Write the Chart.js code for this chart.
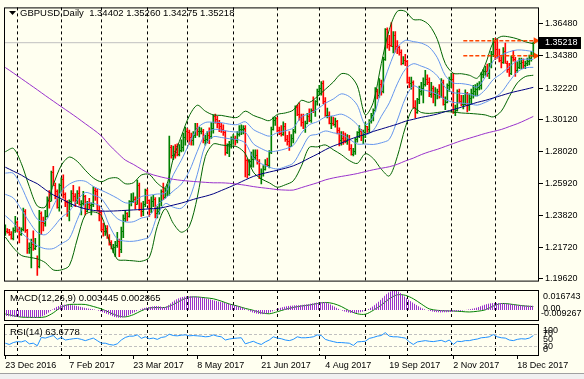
<!DOCTYPE html>
<html><head><meta charset="utf-8">
<script src="https://cdn.jsdelivr.net/npm/chart.js@4"></script>
<style>
html,body{margin:0;padding:0;background:#FFFFF0;}
body{width:584px;height:379px;position:relative;overflow:hidden;}
canvas{position:absolute;left:0;}
#c1{top:0}#c2{top:287px}#c3{top:321px}
#foot{position:absolute;left:0;top:373px;width:584px;height:6px;background:#F0F0F0;border-top:1px solid #A0A0A0;}
</style></head><body>
<canvas id="c1" width="584" height="289"></canvas>
<canvas id="c2" width="584" height="36"></canvas>
<canvas id="c3" width="584" height="58"></canvas>
<div id="foot"></div>
<script>
// ---------------- DATA ----------------
const symbolTitle = 'GBPUSD,Daily';
const dateLabels = ['23 Dec 2016','7 Feb 2017','23 Mar 2017','8 May 2017','21 Jun 2017','4 Aug 2017','19 Sep 2017','2 Nov 2017','18 Dec 2017'];
const dateLabelIdx = [0,32,64,96,128,160,192,224,256];
const monthStartIdx = [6,28,48,71,91,114,136,157,180,201,223,245];
const priceTicks = [1.36480,1.34380,1.32220,1.30120,1.28020,1.25920,1.23820,1.21720,1.19620];
const macdScaleLabels = [0.016743, 0.00, -0.009267];
const rsiScaleLabels = [100, 70, 50, 30, 0];
const rsiLevels = [70, 30];
const alertLevels = [1.3535, 1.3435];
const alertStartIdx = 229;

const opens = [1.2280,1.2280,1.2275,1.2260,1.2230,1.2285,1.2340,1.2290,1.2260,1.2290,
1.2410,1.2285,1.2165,1.2170,1.2190,1.2165,1.2100,1.2050,1.2400,1.2340,
1.2330,1.2375,1.2485,1.2480,1.2665,1.2585,1.2545,1.2435,1.2580,1.2620,
1.2525,1.2470,1.2410,1.2475,1.2530,1.2510,1.2485,1.2530,1.2460,1.2465,
1.2510,1.2410,1.2455,1.2450,1.2460,1.2550,1.2545,1.2415,1.2405,1.2290,
1.2280,1.2300,1.2240,1.2205,1.2165,1.2175,1.2185,1.2215,1.2160,1.2280,
1.2365,1.2400,1.2375,1.2475,1.2480,1.2490,1.2460,1.2580,1.2425,1.2410,
1.2460,1.2550,1.2485,1.2430,1.2480,1.2490,1.2400,1.2410,1.2475,1.2540,
1.2505,1.2550,1.2570,1.2830,1.2780,1.2805,1.2840,1.2790,1.2815,1.2830,
1.2900,1.2940,1.2930,1.2900,1.2880,1.2915,1.2960,1.2940,1.2940,1.2940,
1.2880,1.2885,1.2915,1.2905,1.2960,1.3035,1.3015,1.2990,1.2970,1.2955,
1.2935,1.2800,1.2850,1.2855,1.2885,1.2890,1.2880,1.2920,1.2950,1.2950,
1.2955,1.2745,1.2655,1.2740,1.2755,1.2765,1.2780,1.2740,1.2630,1.2660,
1.2685,1.2720,1.2715,1.2800,1.2950,1.3010,1.3025,1.2945,1.2925,1.2920,
1.2975,1.2885,1.2875,1.2840,1.2890,1.2940,1.3095,1.3050,1.3030,1.3000,
1.2955,1.2995,1.3040,1.3010,1.3080,1.3075,1.3135,1.3205,1.3220,1.3255,
1.3135,1.3045,1.3045,1.2995,1.2995,1.2985,1.3005,1.2945,1.2880,1.2895,
1.2880,1.2875,1.2895,1.2825,1.2790,1.2805,1.2885,1.2935,1.2940,1.2915,
1.2935,1.2970,1.2950,1.3005,1.3045,1.3075,1.3200,1.3175,1.3250,1.3205,
1.3415,1.3610,1.3515,1.3505,1.3500,1.3575,1.3500,1.3495,1.3460,1.3385,
1.3410,1.3400,1.3265,1.3255,1.3260,1.3100,1.3065,1.3150,1.3205,1.3225,
1.3250,1.3285,1.3265,1.3180,1.3220,1.3180,1.3190,1.3205,1.3170,1.3265,
1.3115,1.3130,1.3245,1.3285,1.3285,1.3065,1.3075,1.3200,1.3140,1.3120,
1.3120,1.3190,1.3110,1.3160,1.3190,1.3200,1.3215,1.3230,1.3245,1.3315,
1.3335,1.3335,1.3320,1.3365,1.3450,1.3525,1.3480,1.3435,1.3410,1.3395,
1.3470,1.3390,1.3350,1.3320,1.3430,1.3415,1.3340,1.3360,1.3385,1.3395,
1.3375,1.3390,1.3400,1.3420,1.34402];
const highs = [1.2320,1.2295,1.2290,1.2275,1.2300,1.2375,1.2345,1.2305,1.2300,1.2430,
1.2420,1.2290,1.2200,1.2225,1.2280,1.2230,1.2115,1.2415,1.2405,1.2370,
1.2415,1.2505,1.2545,1.2675,1.2705,1.2595,1.2550,1.2590,1.2630,1.2650,
1.2530,1.2480,1.2485,1.2545,1.2580,1.2525,1.2545,1.2570,1.2480,1.2540,
1.2515,1.2475,1.2495,1.2465,1.2570,1.2565,1.2555,1.2445,1.2415,1.2330,
1.2315,1.2315,1.2255,1.2215,1.2190,1.2210,1.2270,1.2225,1.2305,1.2385,
1.2415,1.2400,1.2480,1.2525,1.2530,1.2505,1.2615,1.2595,1.2465,1.2475,
1.2555,1.2555,1.2485,1.2505,1.2515,1.2500,1.2440,1.2500,1.2550,1.2595,
1.2560,1.2585,1.2905,1.2845,1.2840,1.2850,1.2855,1.2850,1.2880,1.2925,
1.2965,1.2955,1.2945,1.2925,1.2935,1.2990,1.2990,1.2965,1.2960,1.2950,
1.2910,1.2935,1.2960,1.2995,1.3045,1.3050,1.3035,1.3010,1.2990,1.2980,
1.2940,1.2855,1.2870,1.2900,1.2915,1.2905,1.2935,1.2975,1.2980,1.2975,
1.2975,1.2755,1.2750,1.2800,1.2815,1.2815,1.2815,1.2750,1.2690,1.2710,
1.2750,1.2760,1.2810,1.2965,1.3030,1.3030,1.3030,1.2965,1.2975,1.3000,
1.2990,1.2910,1.2935,1.2915,1.2950,1.3105,1.3110,1.3125,1.3050,1.3050,
1.3005,1.3055,1.3085,1.3085,1.3165,1.3140,1.3215,1.3240,1.3265,1.3270,
1.3160,1.3090,1.3065,1.3035,1.3030,1.3025,1.3010,1.2960,1.2935,1.2935,
1.2925,1.2915,1.2910,1.2850,1.2825,1.2890,1.2935,1.2975,1.2950,1.2945,
1.2995,1.2970,1.3015,1.3055,1.3085,1.3225,1.3215,1.3285,1.3275,1.3425,
1.3615,1.3620,1.3570,1.3655,1.3595,1.3595,1.3535,1.3500,1.3475,1.3430,
1.3445,1.3405,1.3295,1.3295,1.3270,1.3140,1.3155,1.3235,1.3260,1.3290,
1.3340,1.3310,1.3290,1.3260,1.3235,1.3225,1.3215,1.3245,1.3285,1.3275,
1.3165,1.3250,1.3295,1.3320,1.3320,1.3110,1.3210,1.3215,1.3175,1.3175,
1.3210,1.3195,1.3185,1.3215,1.3240,1.3245,1.3255,1.3265,1.3325,1.3345,
1.3365,1.3380,1.3385,1.3465,1.3550,1.3550,1.3545,1.3480,1.3430,1.3490,
1.3520,1.3400,1.3385,1.3435,1.3470,1.3425,1.3395,1.3420,1.3420,1.3415,
1.3400,1.3420,1.3440,1.3465,1.35260];
const lows = [1.2250,1.2265,1.2250,1.2225,1.2220,1.2270,1.2275,1.2200,1.2250,1.2280,
1.2270,1.2130,1.2130,1.2035,1.2150,1.2155,1.1985,1.2035,1.2255,1.2280,
1.2310,1.2370,1.2430,1.2475,1.2580,1.2490,1.2430,1.2410,1.2535,1.2495,
1.2440,1.2375,1.2345,1.2440,1.2475,1.2440,1.2460,1.2450,1.2385,1.2450,
1.2385,1.2405,1.2425,1.2385,1.2440,1.2480,1.2410,1.2345,1.2280,1.2245,
1.2250,1.2230,1.2185,1.2160,1.2135,1.2110,1.2170,1.2110,1.2135,1.2235,
1.2340,1.2345,1.2370,1.2445,1.2465,1.2425,1.2455,1.2415,1.2375,1.2380,
1.2440,1.2460,1.2375,1.2400,1.2440,1.2365,1.2365,1.2390,1.2445,1.2485,
1.2495,1.2510,1.2515,1.2760,1.2750,1.2760,1.2775,1.2775,1.2800,1.2805,
1.2845,1.2880,1.2850,1.2845,1.2845,1.2895,1.2910,1.2900,1.2920,1.2860,
1.2845,1.2860,1.2855,1.2890,1.2925,1.2990,1.2960,1.2935,1.2930,1.2910,
1.2780,1.2790,1.2770,1.2825,1.2850,1.2845,1.2860,1.2905,1.2915,1.2920,
1.2635,1.2630,1.2645,1.2700,1.2700,1.2750,1.2720,1.2625,1.2590,1.2640,
1.2680,1.2705,1.2695,1.2790,1.2945,1.2975,1.2935,1.2915,1.2905,1.2910,
1.2870,1.2845,1.2810,1.2835,1.2860,1.2925,1.3040,1.3010,1.2970,1.2955,
1.2930,1.2985,1.3000,1.2995,1.3060,1.3035,1.3110,1.3175,1.3175,1.3120,
1.3035,1.3025,1.2985,1.2955,1.2975,1.2965,1.2920,1.2840,1.2845,1.2850,
1.2860,1.2850,1.2810,1.2780,1.2775,1.2785,1.2865,1.2895,1.2875,1.2855,
1.2895,1.2930,1.2930,1.2990,1.3005,1.3070,1.3150,1.3160,1.3175,1.3190,
1.3405,1.3485,1.3470,1.3495,1.3455,1.3460,1.3450,1.3440,1.3375,1.3380,
1.3370,1.3255,1.3225,1.3215,1.3090,1.3025,1.3055,1.3120,1.3175,1.3125,
1.3235,1.3245,1.3165,1.3160,1.3125,1.3105,1.3150,1.3155,1.3160,1.3110,
1.3080,1.3125,1.3200,1.3225,1.3055,1.3040,1.3070,1.3125,1.3105,1.3085,
1.3110,1.3065,1.3075,1.3120,1.3155,1.3170,1.3170,1.3210,1.3215,1.3290,
1.3305,1.3300,1.3285,1.3355,1.3430,1.3410,1.3420,1.3395,1.3355,1.3385,
1.3385,1.3325,1.3300,1.3310,1.3400,1.3300,1.3325,1.3350,1.3350,1.3350,
1.3350,1.3370,1.3375,1.3400,1.34275];
const closes = [1.2280,1.2275,1.2260,1.2230,1.2285,1.2340,1.2290,1.2260,1.2290,1.2410,
1.2285,1.2165,1.2170,1.2190,1.2165,1.2180,1.2050,1.2400,1.2340,1.2330,
1.2375,1.2485,1.2480,1.2665,1.2585,1.2545,1.2435,1.2580,1.2620,1.2525,
1.2470,1.2410,1.2475,1.2530,1.2510,1.2485,1.2530,1.2460,1.2465,1.2510,
1.2410,1.2455,1.2450,1.2460,1.2550,1.2545,1.2415,1.2405,1.2290,1.2280,
1.2300,1.2240,1.2205,1.2165,1.2175,1.2185,1.2215,1.2160,1.2280,1.2365,
1.2400,1.2375,1.2475,1.2480,1.2490,1.2460,1.2580,1.2425,1.2410,1.2460,
1.2550,1.2485,1.2430,1.2480,1.2490,1.2400,1.2410,1.2475,1.2540,1.2505,
1.2550,1.2570,1.2830,1.2780,1.2805,1.2800,1.2790,1.2815,1.2830,1.2900,
1.2940,1.2930,1.2900,1.2880,1.2915,1.2960,1.2940,1.2940,1.2940,1.2880,
1.2885,1.2915,1.2905,1.2960,1.3035,1.3015,1.2990,1.2970,1.2955,1.2935,
1.2800,1.2850,1.2855,1.2885,1.2890,1.2880,1.2920,1.2950,1.2950,1.2960,
1.2745,1.2655,1.2740,1.2755,1.2765,1.2780,1.2740,1.2630,1.2660,1.2685,
1.2720,1.2715,1.2800,1.2950,1.3010,1.3025,1.2945,1.2925,1.2920,1.2975,
1.2885,1.2875,1.2840,1.2890,1.2940,1.3095,1.3050,1.3030,1.3000,1.2955,
1.2995,1.3040,1.3010,1.3080,1.3075,1.3135,1.3205,1.3220,1.3255,1.3135,
1.3045,1.3045,1.2995,1.2995,1.2985,1.3005,1.2945,1.2880,1.2895,1.2880,
1.2875,1.2895,1.2825,1.2790,1.2805,1.2885,1.2935,1.2940,1.2915,1.2935,
1.2970,1.2950,1.3005,1.3045,1.3075,1.3200,1.3175,1.3250,1.3205,1.3415,
1.3610,1.3515,1.3505,1.3500,1.3575,1.3500,1.3495,1.3460,1.3385,1.3410,
1.3400,1.3265,1.3255,1.3260,1.3100,1.3065,1.3150,1.3205,1.3225,1.3250,
1.3285,1.3265,1.3180,1.3220,1.3180,1.3190,1.3205,1.3170,1.3265,1.3115,
1.3130,1.3245,1.3285,1.3285,1.3065,1.3075,1.3200,1.3140,1.3120,1.3120,
1.3190,1.3110,1.3160,1.3190,1.3200,1.3215,1.3230,1.3245,1.3315,1.3335,
1.3335,1.3320,1.3365,1.3450,1.3525,1.3480,1.3435,1.3410,1.3395,1.3470,
1.3390,1.3350,1.3320,1.3430,1.3415,1.3340,1.3360,1.3385,1.3395,1.3375,
1.3390,1.3400,1.3420,1.3440,1.35218];

// indicator readings, one value every BAND_STEP bars
const BAND_STEP = 4;
const bbUpperOuter = [1.2802,1.2824,1.2725,1.2572,1.2444,1.2437,1.2584,1.2712,1.2767,1.2738,
1.2680,1.2629,1.2604,1.2626,1.2629,1.2591,1.2597,1.2648,1.2652,1.2594,
1.2565,1.2757,1.2904,1.3039,1.3109,1.3070,1.3045,1.3042,1.3032,1.3029,
1.3070,1.3042,1.3023,1.3007,1.3048,1.3058,1.3077,1.3141,1.3128,1.3166,
1.3214,1.3262,1.3317,1.3307,1.3237,1.3045,1.3128,1.3384,1.3608,1.3729,
1.3729,1.3675,1.3672,1.3637,1.3544,1.3384,1.3320,1.3317,1.3307,1.3288,
1.3378,1.3525,1.3563,1.3560,1.3547,1.3528,1.3515];
const bbLowerOuter = [1.2239,1.2169,1.2118,1.2105,1.2095,1.2070,1.2022,1.2022,1.2050,1.2226,
1.2386,1.2405,1.2380,1.2213,1.2092,1.2086,1.2082,1.2079,1.2105,1.2309,
1.2425,1.2329,1.2271,1.2309,1.2501,1.2770,1.2853,1.2847,1.2840,1.2834,
1.2789,1.2668,1.2623,1.2597,1.2568,1.2584,1.2610,1.2706,1.2831,1.2834,
1.2847,1.2815,1.2783,1.2744,1.2725,1.2789,1.2757,1.2687,1.2642,1.2770,
1.2962,1.3090,1.3061,1.3055,1.3061,1.3067,1.3064,1.3058,1.3055,1.3051,
1.3045,1.3032,1.3070,1.3166,1.3256,1.3298,1.3307];
const bbUpperInner = [1.2661,1.2660,1.2573,1.2455,1.2357,1.2345,1.2444,1.2540,1.2588,1.2610,
1.2607,1.2573,1.2548,1.2523,1.2495,1.2465,1.2468,1.2506,1.2515,1.2523,
1.2530,1.2650,1.2746,1.2857,1.2957,1.2995,1.2997,1.2994,1.2984,1.2981,
1.3000,1.2949,1.2923,1.2905,1.2928,1.2940,1.2960,1.3032,1.3054,1.3083,
1.3122,1.3150,1.3184,1.3166,1.3109,1.2981,1.3035,1.3210,1.3367,1.3489,
1.3537,1.3529,1.3519,1.3492,1.3423,1.3305,1.3256,1.3252,1.3244,1.3229,
1.3295,1.3402,1.3440,1.3462,1.3474,1.3471,1.3463];
const bbMiddle = [1.2521,1.2497,1.2422,1.2339,1.2270,1.2254,1.2303,1.2367,1.2409,1.2482,
1.2533,1.2517,1.2492,1.2420,1.2361,1.2339,1.2340,1.2364,1.2379,1.2452,
1.2495,1.2543,1.2588,1.2674,1.2805,1.2920,1.2949,1.2945,1.2936,1.2932,
1.2930,1.2855,1.2823,1.2802,1.2808,1.2821,1.2844,1.2924,1.2980,1.3000,
1.3031,1.3039,1.3050,1.3026,1.2981,1.2917,1.2943,1.3036,1.3125,1.3250,
1.3346,1.3383,1.3367,1.3346,1.3303,1.3226,1.3192,1.3188,1.3181,1.3170,
1.3212,1.3279,1.3317,1.3363,1.3402,1.3413,1.3411];
const bbLowerInner = [1.2380,1.2333,1.2270,1.2222,1.2182,1.2162,1.2163,1.2195,1.2229,1.2354,
1.2460,1.2461,1.2436,1.2316,1.2226,1.2212,1.2211,1.2221,1.2242,1.2380,
1.2460,1.2436,1.2429,1.2492,1.2653,1.2845,1.2901,1.2896,1.2888,1.2883,
1.2859,1.2762,1.2723,1.2700,1.2688,1.2703,1.2727,1.2815,1.2905,1.2917,
1.2939,1.2927,1.2917,1.2885,1.2853,1.2853,1.2850,1.2861,1.2884,1.3010,
1.3154,1.3236,1.3214,1.3201,1.3182,1.3146,1.3128,1.3123,1.3118,1.3110,
1.3128,1.3155,1.3193,1.3265,1.3329,1.3356,1.3359];
const maSlow = [1.3358,1.3322,1.3285,1.3248,1.3211,1.3173,1.3136,1.3099,1.3063,1.3026,
1.2987,1.2949,1.2907,1.2847,1.2795,1.2747,1.2719,1.2687,1.2658,1.2642,
1.2629,1.2620,1.2613,1.2608,1.2604,1.2600,1.2597,1.2597,1.2594,1.2588,
1.2581,1.2572,1.2565,1.2559,1.2552,1.2549,1.2549,1.2565,1.2581,1.2597,
1.2616,1.2629,1.2639,1.2648,1.2658,1.2671,1.2683,1.2693,1.2703,1.2719,
1.2741,1.2760,1.2783,1.2802,1.2818,1.2837,1.2856,1.2875,1.2891,1.2907,
1.2923,1.2936,1.2949,1.2968,1.2987,1.3010,1.3035];
const maMid = [1.2700,1.2674,1.2648,1.2616,1.2591,1.2552,1.2517,1.2492,1.2463,1.2441,
1.2425,1.2415,1.2410,1.2410,1.2412,1.2415,1.2418,1.2421,1.2425,1.2428,
1.2437,1.2450,1.2463,1.2479,1.2495,1.2508,1.2524,1.2546,1.2568,1.2591,
1.2616,1.2639,1.2655,1.2668,1.2680,1.2693,1.2709,1.2732,1.2760,1.2786,
1.2815,1.2840,1.2859,1.2882,1.2901,1.2917,1.2936,1.2952,1.2968,1.2984,
1.3003,1.3016,1.3029,1.3039,1.3051,1.3067,1.3080,1.3096,1.3112,1.3128,
1.3141,1.3157,1.3173,1.3189,1.3202,1.3214,1.3227];
const macdMain = [-0.0048,-0.0056,-0.0060,-0.0064,-0.0064,-0.0040,0.0009,0.0041,0.0041,0.0033,
0.0017,0.0005,-0.0015,-0.0040,-0.0064,-0.0056,-0.0024,0.0009,0.0025,0.0033,
0.0025,0.0074,0.0107,0.0115,0.0111,0.0098,0.0082,0.0066,0.0050,0.0033,
0.0009,-0.0024,-0.0036,-0.0024,0.0009,0.0029,0.0037,0.0041,0.0050,0.0062,
0.0066,0.0033,-0.0003,-0.0024,-0.0024,-0.0007,0.0033,0.0090,0.0150,0.0158,
0.0107,0.0058,0.0017,-0.0007,-0.0020,-0.0020,-0.0015,-0.0007,0.0005,0.0021,
0.0046,0.0058,0.0058,0.0050,0.0041,0.0037,0.003445];
const macdSignal = [-0.0034,-0.0048,-0.0060,-0.0062,-0.0063,-0.0058,-0.0024,0.0025,0.0046,0.0047,
0.0046,0.0029,0.0009,-0.0020,-0.0048,-0.0058,-0.0040,-0.0007,0.0017,0.0020,
0.0021,0.0046,0.0082,0.0107,0.0109,0.0102,0.0094,0.0074,0.0050,0.0033,
0.0013,-0.0003,-0.0024,-0.0032,-0.0015,0.0005,0.0021,0.0033,0.0041,0.0054,
0.0063,0.0054,0.0029,-0.0007,-0.0032,-0.0036,-0.0003,0.0041,0.0094,0.0127,
0.0123,0.0094,0.0050,0.0009,-0.0003,-0.0007,-0.0009,-0.0013,-0.0017,-0.0011,
0.0001,0.0033,0.0054,0.0050,0.0041,0.0033,0.002865];
// RSI(14), one value every RSI_STEP bars
const RSI_STEP = 2;
const rsiValues = [40,36,42,45,44,48,38,40,32,58,
56,60,64,52,58,50,52,54,55,52,
48,52,56,48,40,40,36,34,38,50,
58,62,62,66,55,60,54,56,52,58,
60,68,64,63,65,66,63,64,63,62,
60,61,66,62,60,50,53,55,56,57,
38,42,46,40,36,44,50,60,56,54,
50,48,52,60,57,57,58,60,66,64,
52,48,45,42,42,41,40,33,44,45,
46,55,58,62,64,73,62,60,60,58,
56,44,36,44,46,48,46,45,47,49,
44,50,36,46,45,48,48,51,53,57,
58,60,67,60,57,56,50,48,52,54,
53,56,63.6778];

// ---------------- RENDER ----------------
const X_MIN = -0.65, X_MAX = 266.85;
const PRICE_MIN = 1.19448, PRICE_MAX = 1.37548;
const MACD_MIN = -0.009267, MACD_MAX = 0.016743;
const FONT = 'Liberation Sans';
const AXIS_FONT = {family: FONT, size: 9};
const last = opens.length - 1;
const UP = '#008000', DOWN = '#FF0000';
const barColor = i => closes[i] >= opens[i] ? UP : DOWN;

const stepPts = (arr, step) => arr.map((v, j) => ({x: j * step, y: v}));

const monthGrid = {
  id: 'monthGrid',
  beforeDatasetsDraw(chart) {
    const {ctx, chartArea: a, scales: {x}} = chart;
    ctx.save();
    ctx.strokeStyle = '#000'; ctx.lineWidth = 1; ctx.setLineDash([3, 3]);
    monthStartIdx.forEach(i => {
      const px = Math.round(x.getPixelForValue(i)) + 0.5;
      ctx.beginPath(); ctx.moveTo(px, a.top); ctx.lineTo(px, a.bottom); ctx.stroke();
    });
    ctx.restore();
  }
};
const frame = {
  id: 'frame',
  afterDraw(chart) {
    const {ctx, chartArea: a} = chart;
    ctx.save(); ctx.strokeStyle = '#000'; ctx.lineWidth = 1;
    ctx.strokeRect(a.left + 0.5, a.top + 0.5, a.right - a.left - 1, a.bottom - a.top - 1);
    ctx.restore();
  }
};
// open / close ticks of the OHLC bars, placed through the chart's scales
const ohlcTicks = {
  id: 'ohlcTicks',
  afterDatasetDraw(chart, args) {
    if (args.index !== 1) return;
    const {ctx, chartArea: a, scales: {x, y}} = chart;
    ctx.save();
    ctx.beginPath(); ctx.rect(a.left, a.top, a.right - a.left, a.bottom - a.top); ctx.clip();
    opens.forEach((o, i) => {
      const px = Math.round(x.getPixelForValue(i));
      ctx.fillStyle = barColor(i);
      ctx.fillRect(px - 1, Math.round(y.getPixelForValue(o)), 1, 1);
      ctx.fillRect(px + 1, Math.round(y.getPixelForValue(closes[i])), 1, 1);
    });
    ctx.restore();
  }
};
const mainOverlay = {
  id: 'mainOverlay',
  afterDraw(chart) {
    const {ctx, chartArea: a, scales: {y}} = chart;
    ctx.save();
    ctx.fillStyle = '#000';
    ctx.beginPath(); ctx.moveTo(9, 11); ctx.lineTo(16, 11); ctx.lineTo(12.5, 15); ctx.closePath(); ctx.fill();
    ctx.font = '9.5px ' + FONT; ctx.textBaseline = 'middle';
    const t = symbolTitle + '  ' + [opens[last], highs[last], lows[last], closes[last]].map(v => v.toFixed(5)).join(' ');
    ctx.fillText(t, 20, 13);
    const py = Math.round(y.getPixelForValue(closes[last]));
    ctx.fillStyle = '#000';
    ctx.fillRect(a.right, py - 6, 42, 12);
    ctx.fillStyle = '#fff'; ctx.font = '9px ' + FONT;
    ctx.fillText(closes[last].toFixed(5), a.right + 6, py);
    ctx.restore();
  }
};

new Chart(document.getElementById('c1'), {
  type: 'bar',
  data: {datasets: [
    {type: 'line', data: [{x: X_MIN, y: closes[last]}, {x: X_MAX, y: closes[last]}], borderColor: '#C0C0C0', borderWidth: 1, pointRadius: 0, order: 40},
    {type: 'bar', data: opens.map((o, i) => ({x: i, y: [lows[i], highs[i]]})),
      backgroundColor: opens.map((o, i) => barColor(i)),
      barThickness: 1, borderWidth: 0, order: 30},
    {type: 'line', data: stepPts(bbUpperOuter, BAND_STEP), borderColor: '#006400', borderWidth: 1, pointRadius: 0, tension: 0.3, order: 10},
    {type: 'line', data: stepPts(bbLowerOuter, BAND_STEP), borderColor: '#006400', borderWidth: 1, pointRadius: 0, tension: 0.3, order: 10},
    {type: 'line', data: stepPts(bbUpperInner, BAND_STEP), borderColor: '#6495ED', borderWidth: 1, pointRadius: 0, tension: 0.3, order: 10},
    {type: 'line', data: stepPts(bbMiddle, BAND_STEP), borderColor: '#6495ED', borderWidth: 1, pointRadius: 0, tension: 0.3, order: 10},
    {type: 'line', data: stepPts(bbLowerInner, BAND_STEP), borderColor: '#6495ED', borderWidth: 1, pointRadius: 0, tension: 0.3, order: 10},
    {type: 'line', data: stepPts(maSlow, BAND_STEP), borderColor: '#9932CC', borderWidth: 1, pointRadius: 0, tension: 0.3, order: 5},
    {type: 'line', data: stepPts(maMid, BAND_STEP), borderColor: '#000080', borderWidth: 1, pointRadius: 0, tension: 0.3, order: 5},
    ...alertLevels.map(v => ({type: 'line', data: [{x: alertStartIdx, y: v}, {x: last + 0.3, y: v}], borderColor: '#FF4500', borderWidth: 1.5, borderDash: [4, 2], pointRadius: 0, order: 1})),
    {type: 'scatter', data: alertLevels.map(v => ({x: last + 1.2, y: v})), pointStyle: 'triangle', rotation: 90, radius: 4, backgroundColor: '#FF4500', borderColor: '#FF4500', borderWidth: 0, order: 1}
  ]},
  options: {
    responsive: false, animation: false, events: [],
    layout: {padding: {left: 4, top: 4, right: 0, bottom: 2}},
    plugins: {legend: {display: false}, tooltip: {enabled: false}},
    scales: {
      x: {type: 'linear', min: X_MIN, max: X_MAX, offset: false, display: false},
      y: {position: 'right', min: PRICE_MIN, max: PRICE_MAX,
        afterBuildTicks(ax) { ax.ticks = priceTicks.map(v => ({value: v})); },
        afterFit(ax) { ax.width = 45; },
        ticks: {callback: v => Number(v).toFixed(5), font: AXIS_FONT, color: '#000', padding: 2, autoSkip: false},
        grid: {drawOnChartArea: false, drawTicks: true, tickLength: 4, color: '#000'},
        border: {display: false}}
    }
  },
  plugins: [monthGrid, ohlcTicks, frame, mainOverlay]
});

// MACD
const c2 = document.getElementById('c2');
const pc = document.createElement('canvas'); pc.width = 2; pc.height = 1;
const pg = pc.getContext('2d'); pg.fillStyle = '#9932CC'; pg.fillRect(0, 0, 1, 1);
const histPattern = c2.getContext('2d').createPattern(pc, 'repeat');
const macdLabelsPlugin = {
  id: 'macdLabels',
  afterDraw(chart) {
    const {ctx, chartArea: a, scales: {y}} = chart;
    ctx.save(); ctx.fillStyle = '#000'; ctx.font = '9px ' + FONT; ctx.textBaseline = 'middle';
    macdScaleLabels.forEach(v => {
      let py = y.getPixelForValue(v);
      if (v === MACD_MAX) py = a.top + 7;
      else if (v === MACD_MIN) py = a.bottom - 7;
      else py -= 1;
      const txt = v === 0 ? '0.00' : v.toFixed(6);
      ctx.fillText(txt, a.right + (v < 0 ? 2 : 4), py);
    });
    ctx.font = '9.5px ' + FONT;
    ctx.fillText('MACD(12,26,9) ' + macdMain[macdMain.length - 1].toFixed(6) + ' ' + macdSignal[macdSignal.length - 1].toFixed(6), a.left + 6, a.top + 8);
    ctx.restore();
  }
};
new Chart(c2, {
  type: 'line',
  data: {datasets: [
    {data: stepPts(macdMain, BAND_STEP), borderColor: 'transparent', borderWidth: 0, backgroundColor: histPattern, fill: 'origin', pointRadius: 0, tension: 0.3},
    {data: stepPts(macdSignal, BAND_STEP), borderColor: '#008000', borderWidth: 1, pointRadius: 0, tension: 0.3, fill: false}
  ]},
  options: {
    responsive: false, animation: false, events: [],
    layout: {padding: {left: 4, right: 45, top: 3, bottom: 2}},
    plugins: {legend: {display: false}, tooltip: {enabled: false}},
    scales: {
      x: {type: 'linear', min: X_MIN, max: X_MAX, display: false},
      y: {min: MACD_MIN, max: MACD_MAX, display: false}
    }
  },
  plugins: [monthGrid, frame, macdLabelsPlugin]
});

// RSI
const rsiPlugin = {
  id: 'rsiDeco',
  beforeDatasetsDraw(chart) {
    const {ctx, chartArea: a, scales: {y}} = chart;
    ctx.save(); ctx.strokeStyle = '#C0C0C0'; ctx.lineWidth = 1; ctx.setLineDash([3, 2]);
    rsiLevels.forEach(v => {
      const py = Math.round(y.getPixelForValue(v)) + 0.5;
      ctx.beginPath(); ctx.moveTo(a.left, py); ctx.lineTo(a.right, py); ctx.stroke();
    });
    ctx.restore();
  },
  afterDraw(chart) {
    const {ctx, chartArea: a, scales: {y}} = chart;
    ctx.save(); ctx.fillStyle = '#000'; ctx.font = '9px ' + FONT; ctx.textBaseline = 'middle';
    rsiScaleLabels.forEach(v => {
      let py = y.getPixelForValue(v);
      if (v === 100) py = a.top + 7;
      else if (v === 0) py = a.bottom - 6;
      ctx.fillText(String(v), a.right + 4, py);
    });
    ctx.font = '9.5px ' + FONT;
    ctx.fillText('RSI(14) ' + rsiValues[rsiValues.length - 1].toFixed(4), a.left + 6, a.top + 8);
    ctx.restore();
  }
};
new Chart(document.getElementById('c3'), {
  type: 'line',
  data: {datasets: [
    {data: stepPts(rsiValues, RSI_STEP), borderColor: '#1E90FF', borderWidth: 1, pointRadius: 0, tension: 0, fill: false}
  ]},
  options: {
    responsive: false, animation: false, events: [],
    layout: {padding: {left: 4, right: 45, top: 3, bottom: 0}},
    plugins: {legend: {display: false}, tooltip: {enabled: false}},
    scales: {
      x: {type: 'linear', min: X_MIN, max: X_MAX, offset: false,
        afterBuildTicks(ax) { ax.ticks = dateLabelIdx.map(v => ({value: v})); },
        afterFit(ax) { ax.height = 23; },
        ticks: {callback: v => dateLabels[dateLabelIdx.indexOf(v)], align: 'start', maxRotation: 0, autoSkip: false, font: AXIS_FONT, color: '#000', padding: 1},
        grid: {drawOnChartArea: false, drawTicks: true, tickLength: 3, color: '#000'},
        border: {display: false}},
      y: {min: 0, max: 100, display: false}
    }
  },
  plugins: [monthGrid, frame, rsiPlugin]
});
</script>
</body></html>
